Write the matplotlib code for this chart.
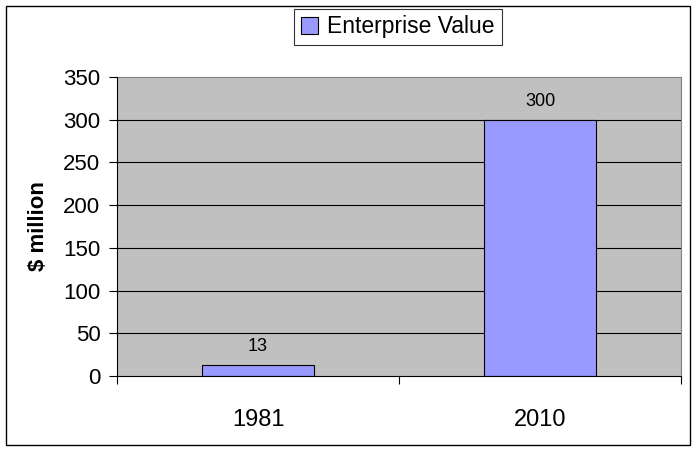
import matplotlib.pyplot as plt
from matplotlib.patches import Rectangle

years = ['1981', '2010']
values = [13, 300]
series_name = 'Enterprise Value'
y_ticks = [0, 50, 100, 150, 200, 250, 300, 350]

plt.rcParams['font.family'] = ['Liberation Sans', 'DejaVu Sans']

fig = plt.figure(figsize=(6.98, 4.51), dpi=100)
ax = fig.add_axes([117 / 698, 1 - 376 / 451, (681 - 117) / 698, (376 - 77) / 451])
ax.set_facecolor('#c0c0c0')

x = list(range(len(years)))
bars = ax.bar(x, values, width=0.4, color='#9999ff', edgecolor='black', linewidth=0.8,
              label=series_name, zorder=3)
for xi, v in zip(x, values):
    ax.annotate(str(v), (xi, v), xytext=(0, 7), textcoords='offset points',
                ha='center', va='bottom', fontsize=13)

ax.set_xlim(-0.5, len(years) - 0.5)
ax.set_ylim(0, 350)
ax.set_yticks(y_ticks)
ax.tick_params(axis='y', labelsize=16, length=6, width=0.8, direction='out', pad=6)
ax.set_xticks(x)
ax.set_xticklabels(years)
ax.set_xticks([i - 0.5 for i in range(len(years) + 1)], minor=True)
ax.tick_params(axis='x', which='major', length=0, labelsize=17, pad=24)
ax.tick_params(axis='x', which='minor', length=6, width=0.8, direction='out')

for yv in y_ticks[1:-1]:
    ax.axhline(yv, color='black', linewidth=0.8, zorder=1)

for side in ['top', 'right']:
    ax.spines[side].set_color('#808080')
    ax.spines[side].set_linewidth(0.8)
for side in ['left', 'bottom']:
    ax.spines[side].set_color('black')
    ax.spines[side].set_linewidth(0.8)
    ax.spines[side].set_zorder(4)

ax.set_ylabel('$ million', fontsize=16, fontweight='bold', labelpad=10)

leg = fig.legend(handles=[bars], labels=[series_name], loc='center',
                 bbox_to_anchor=(398 / 698, 1 - 27 / 451), fontsize=16.5,
                 frameon=True, fancybox=False, edgecolor='black',
                 handlelength=0.75, handleheight=0.75, handletextpad=0.4,
                 borderpad=0.3, borderaxespad=0)
leg.get_frame().set_linewidth(0.8)

fig.patches.append(Rectangle((6 / 698, 6 / 451), 684 / 698, 439 / 451,
                             transform=fig.transFigure, fill=False,
                             edgecolor='black', linewidth=1))

fig.savefig('out.png', dpi=100)
